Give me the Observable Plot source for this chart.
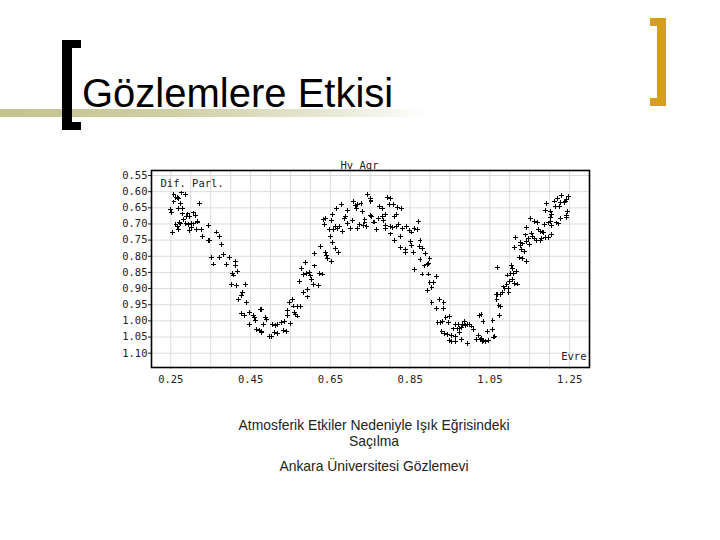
<!DOCTYPE html>
<html>
<head>
<meta charset="utf-8">
<script src="https://cdn.jsdelivr.net/npm/d3@7"></script>
<script src="https://cdn.jsdelivr.net/npm/@observablehq/plot@0.6"></script>
<style>
  html, body { margin: 0; padding: 0; background: #fff; }
  #page { position: relative; width: 720px; height: 540px; overflow: hidden; background: #fff; font-family: "Liberation Sans", Arial, sans-serif; }
  .bar { position: absolute; left: 0; top: 109px; width: 430px; height: 8px;
         background: linear-gradient(to right, #c3c38e 0%, #cfcfa4 40%, #e6e6d2 75%, #ffffff 100%); }
  .lbr { position: absolute; left: 62px; top: 40px; width: 9px; height: 74px;
         border-left: 10px solid #000; border-top: 8px solid #000; border-bottom: 8px solid #000; }
  .rbr { position: absolute; left: 650px; top: 18px; width: 7px; height: 72px;
         border-right: 9px solid #d4a017; border-top: 8px solid #d4a017; border-bottom: 8px solid #d4a017; }
  .title { position: absolute; left: 82px; top: 73px; font-size: 40px; line-height: 40px; color: #000; white-space: nowrap; }
  .cap { position: absolute; left: 0; width: 748px; text-align: center; font-size: 13.9px; line-height: 16px; color: #222; }
  #chart { position: absolute; left: 100px; top: 150px; }
  #chart g[aria-label="dot"] path { shape-rendering: crispEdges; }
  #chart g[aria-label="grid"] line { shape-rendering: crispEdges; }
</style>
</head>
<body>
<div id="page">
  <div class="bar"></div>
  <div class="lbr"></div>
  <div class="rbr"></div>
  <div class="title">Gözlemlere Etkisi</div>
  <div id="chart"></div>
  <div class="cap" style="top:417px">Atmosferik Etkiler Nedeniyle Işık Eğrisindeki<br>Saçılma</div>
  <div class="cap" style="top:458px">Ankara Üniversitesi Gözlemevi</div>
</div>
<script>
// ---- data ----
const phase = [
  0.258,0.267,0.277,0.287,0.258,0.275,0.322,0.270,0.279,0.250,0.251,0.280,0.290,0.297,0.307,0.312,0.282,0.272,0.263,0.268,
  0.275,0.288,0.295,0.302,0.307,0.317,0.270,0.255,0.297,0.303,0.315,0.327,0.345,0.330,0.345,0.348,0.365,0.373,0.377,0.353,
  0.358,0.372,0.383,0.398,0.390,0.413,0.412,0.417,0.405,0.407,0.402,0.415,0.437,0.430,0.427,0.420,0.440,0.428,0.435,0.447,
  0.457,0.475,0.460,0.462,0.448,0.465,0.472,0.478,0.483,0.263,0.269,0.293,0.318,
  0.477,0.477,0.488,0.490,0.505,0.512,0.518,0.498,0.502,0.510,0.518,0.527,0.535,0.533,0.540,0.550,0.542,0.543,0.547,0.555,
  0.557,0.560,0.563,0.568,0.568,0.575,0.582,0.593,0.593,0.573,0.583,0.590,0.598,0.600,0.602,0.610,0.607,0.620,0.622,0.630,
  0.578,0.588,0.610,0.625,0.638,0.640,0.642,0.663,0.670,0.652,0.655,0.650,0.648,0.657,0.668,0.680,0.673,0.663,0.632,0.638,
  0.635,0.653,0.655,0.665,0.678,0.685,0.687,0.693,0.693,0.700,0.705,0.708,0.713,0.715,0.718,0.727,0.730,0.718,0.723,0.733,
  0.742,0.737,0.737,0.743,0.750,0.752,0.750,0.758,
  0.752,0.753,0.762,0.765,0.770,0.773,0.780,0.782,0.783,0.788,0.788,0.788,0.793,0.800,0.798,0.808,0.810,0.815,0.818,0.828,
  0.802,0.807,0.815,0.822,0.802,0.810,0.827,0.832,0.842,0.848,0.853,0.860,0.868,0.872,0.850,0.853,0.827,0.838,0.838,0.858,
  0.875,0.873,0.882,0.888,0.875,0.885,0.893,0.897,0.900,0.862,0.880,0.897,0.917,0.900,0.910,0.905,0.893,0.905,0.923,0.917,
  0.933,0.935,0.940,0.950,0.920,0.927,0.932,0.947,0.963,0.972,0.982,0.987,0.958,0.970,0.975,0.980,0.988,0.995,1.000,1.005,
  1.010,1.025,0.930,0.937,0.945,0.953,0.950,0.955,0.963,0.963,0.975,0.980,0.993,1.017,1.022,1.027,1.032,
  1.028,1.033,1.028,1.033,1.040,1.047,1.045,1.057,1.058,1.060,1.063,1.075,1.073,1.078,1.068,1.067,1.070,1.078,1.082,1.085,
  1.088,1.097,1.098,1.093,1.100,1.107,1.113,1.120,1.095,1.103,1.110,1.117,1.107,1.105,1.070,1.113,1.125,1.133,1.143,1.115,
  1.127,1.132,1.130,1.137,1.128,1.140,1.143,1.150,1.147,1.155,1.158,1.162,1.167,1.177,1.143,1.153,1.163,1.170,1.172,1.177,
  1.182,1.180,1.190,1.197,1.205,1.185,1.188,1.197,1.202,1.205,1.217,1.223,1.227,1.202,1.190,1.193,1.202,1.205,1.213,1.220,
  1.215,1.225,1.228,1.230,1.240,1.243,1.245,1.248,1.242,1.243,1.237
];
const mag = [
  0.608,0.619,0.604,0.610,0.632,0.636,0.636,0.653,0.653,0.656,0.664,0.669,0.678,0.678,0.666,0.673,0.687,0.695,0.703,0.708,
  0.700,0.699,0.702,0.699,0.700,0.694,0.717,0.727,0.719,0.711,0.717,0.717,0.706,0.740,0.751,0.752,0.725,0.740,0.764,0.805,
  0.824,0.805,0.795,0.805,0.826,0.816,0.828,0.847,0.854,0.858,0.887,0.890,0.887,0.911,0.921,0.933,0.942,0.977,0.983,0.973,
  0.983,0.964,0.991,0.998,1.012,1.028,1.030,1.034,1.012,0.617,0.622,0.669,0.691,
  0.964,1.035,0.988,0.995,1.012,1.014,1.012,1.047,1.049,1.037,1.038,1.004,1.002,1.030,1.032,1.009,0.969,0.983,0.942,0.935,
  0.954,0.973,0.981,0.985,0.956,0.956,0.913,0.903,0.926,0.878,0.857,0.854,0.851,0.861,0.872,0.830,0.888,0.890,0.853,0.855,
  0.839,0.818,0.792,0.770,0.789,0.797,0.808,0.777,0.789,0.816,0.756,0.738,0.717,0.717,0.715,0.723,0.707,0.708,0.686,0.684,
  0.703,0.688,0.672,0.653,0.641,0.684,0.677,0.699,0.657,0.713,0.689,0.630,0.643,0.653,0.639,0.637,0.662,0.713,0.703,0.705,
  0.707,0.686,0.694,0.608,0.622,0.632,0.674,0.694,
  0.626,0.676,0.694,0.717,0.684,0.647,0.653,0.676,0.689,0.672,0.705,0.715,0.619,0.622,0.641,0.639,0.678,0.670,0.648,0.653,
  0.707,0.711,0.707,0.703,0.731,0.752,0.740,0.715,0.707,0.721,0.725,0.713,0.717,0.692,0.754,0.766,0.773,0.779,0.789,0.789,
  0.750,0.771,0.775,0.791,0.810,0.830,0.826,0.822,0.806,0.841,0.855,0.855,0.863,0.880,0.880,0.898,0.907,0.942,0.934,0.962,
  0.962,0.943,0.989,0.987,1.004,1.004,1.002,1.006,1.010,1.012,1.010,1.002,1.025,1.025,1.023,1.021,1.015,1.012,1.010,1.016,
  1.026,0.983,1.033,1.039,1.043,1.045,1.061,1.065,1.065,1.047,1.036,1.057,1.071,1.057,1.045,1.057,1.063,
  0.981,1.001,1.055,1.061,1.065,1.061,1.033,1.027,0.999,1.050,1.048,0.983,0.952,0.956,0.935,0.917,0.919,0.917,0.911,0.895,
  0.901,0.899,0.911,0.887,0.879,0.871,0.884,0.886,0.858,0.854,0.852,0.848,0.838,0.828,0.834,0.774,0.805,0.808,0.815,0.743,
  0.758,0.762,0.778,0.784,0.767,0.734,0.755,0.763,0.744,0.728,0.740,0.746,0.752,0.752,0.711,0.682,0.692,0.696,0.717,0.723,
  0.725,0.745,0.743,0.743,0.732,0.727,0.701,0.697,0.693,0.704,0.697,0.700,0.682,0.679,0.658,0.638,0.660,0.672,0.629,0.621,
  0.645,0.645,0.634,0.612,0.629,0.625,0.661,0.615,0.674,0.680,0.634
];
const yTicks = [0.55,0.60,0.65,0.70,0.75,0.80,0.85,0.90,0.95,1.00,1.05,1.10];
const xLabelTicks = [0.25,0.45,0.65,0.85,1.05,1.25];
const xMinorTicks = [0.25,0.30,0.35,0.40,0.45,0.50,0.55,0.60,0.65,0.70,0.75,0.80,0.85,0.90,0.95,1.00,1.05,1.10,1.15,1.20,1.25];
const starName = "Hv Aqr";
const yName = "Dif. Parl.";
const xName = "Evre";

const points = phase.map((p, i) => ({phase: p, mag: mag[i]}));
const fmt = d3.format(".2f");

const chart = Plot.plot({
  width: 510,
  height: 240,
  marginLeft: 51,
  marginRight: 21,
  marginTop: 20,
  marginBottom: 23,
  style: {fontFamily: "'DejaVu Sans Mono', monospace", fontSize: "10.5px", color: "#222", background: "transparent"},
  x: {domain: [0.2016, 1.3], label: null},
  y: {domain: [0.5345, 1.1443], reverse: true, label: null},
  marks: [
    Plot.gridX(xMinorTicks, {stroke: "#dcdcdc", strokeOpacity: 1}),
    Plot.gridY(yTicks, {stroke: "#dcdcdc", strokeOpacity: 1}),
    Plot.axisY(yTicks, {tickSize: 3, tickPadding: 1, tickFormat: fmt, label: null}),
    Plot.axisX(xMinorTicks, {tickSize: 2, tickFormat: () => "", stroke: "#bbb", label: null}),
    Plot.axisX(xLabelTicks, {tickSize: 0, tickPadding: 8, tickFormat: fmt, label: null}),
    Plot.dot(points, {x: "phase", y: "mag", symbol: "plus", r: 1.7, stroke: "#000", strokeWidth: 1}),
    Plot.frame({stroke: "#000", strokeWidth: 1.6}),
    Plot.text([starName], {frameAnchor: "top", dx: -11, dy: -9, fill: "#222"}),
    Plot.text([yName], {frameAnchor: "top-left", dx: 9, dy: 9, fill: "#222"}),
    Plot.text([xName], {frameAnchor: "bottom-right", dx: -3, dy: -8, fill: "#222"})
  ]
});
document.getElementById("chart").appendChild(chart);
</script>
</body>
</html>
